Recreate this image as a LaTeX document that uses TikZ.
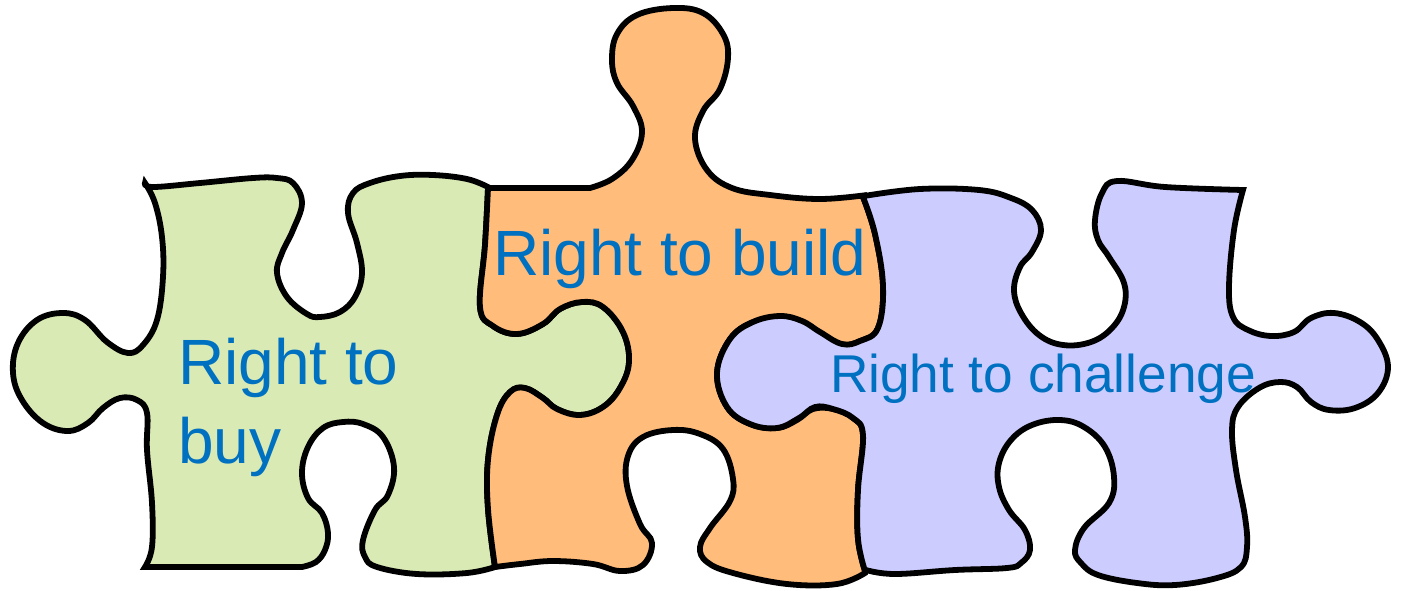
\documentclass[tikz,border=0pt]{standalone}
\usepackage{fontspec}
\setmainfont{Liberation Sans}
\definecolor{pgreen}{HTML}{D9EAB4}
\definecolor{porange}{HTML}{FFBC7B}
\definecolor{ppurple}{HTML}{CCCCFF}
\definecolor{ptext}{HTML}{0070C0}
\tikzset{
  piece/.style={draw=black,line width=5.8pt,line join=miter,miter limit=6},
  lbl/.style={text=ptext,inner sep=0pt,outer sep=0pt},
  sm/.style={smooth,tension=0.65}
}
\def\sharedR{-- plot[sm] coordinates{(488,188)(485,245)(480,307)(493,326)(517,334)(543,324)(560,309)(582,302)(603,307)(623,332)(629,362)(620,388)(603,407)(580,415)(557,409)(543,398)(525,388)(510,392)(497,415)(488,460)(488,509)(495,567)}}
\def\sharedS{-- plot[sm] coordinates{(865,571)(858,539)(858,490)(863,435)(853,418)(833,409)(813,409)(797,420)(777,428)(750,424)(727,407)(717,373)(730,339)(753,322)(780,318)(800,324)(817,335)(840,345)(860,341)(878,328)(883,286)(875,234)(863,197)}}
\def\purpleS{-- plot[sm] coordinates{(865,571)(858,539)(858,490)(863,435)(853,418)(833,409)(815,407)(799,418)(777,428)(750,424)(727,407)(717,373)(730,339)(753,322)(780,316)(802,321)(820,332)(842,344)(860,341)(878,328)(883,286)(875,234)(863,197)}}
\begin{document}
\begin{tikzpicture}[x=1pt,y=-1pt]
\useasboundingbox (0,0) rectangle (1403,590);
% green piece
\path[piece,fill=pgreen]
  plot[sm] coordinates{(145,183)(153,187)(200,183)(253,178)(277,178)(293,183)(302,203)(293,230)(282,253)(277,273)(287,297)(307,314)(320,317)(340,312)(355,297)(362,273)(357,243)(348,213)(353,193)(370,183)(400,176)(433,175)(467,179)(488,187)}
  \sharedR
  -- plot[sm] coordinates{(495,567)(467,573)(417,574)(377,567)(365,557)(363,540)(375,510)(388,495)(394,467)(383,437)(363,424)(343,422)(323,428)(308,447)(302,473)(308,498)(322,513)(328,533)(325,550)(316,562)(302,567)}
  -- (145,567)
  -- plot[sm] coordinates{(145,567)(152,547)(152,503)(147,450)(147,413)(137,400)(120,398)(103,408)(88,423)(68,431)(43,423)(22,400)(13,373)(18,343)(37,320)(63,313)(85,320)(107,342)(128,353)(143,345)(157,320)(163,277)(162,237)(155,203)(145,183)}
  -- cycle;
% orange piece
\path[piece,fill=porange]
  (488,188) \sharedR
  -- plot[sm] coordinates{(495,567)(520,564)(553,561)(593,564)(620,571)(643,565)(652,543)(640,524)(627,486)(628,456)(643,437)(673,430)(700,434)(723,449)(733,479)(730,501)(710,528)(700,547)(707,562)(733,573)(787,584)(837,584)(865,573)}
  \sharedS
  -- plot[sm] coordinates{(867,195)(820,199)(770,195)(732,188)(707,170)(695,139)(703,111)(720,89)(728,58)(723,34)(703,13)(673,8)(637,15)(617,34)(612,60)(617,83)(633,106)(642,132)(632,160)(612,179)(590,188)}
  -- (488,188) -- cycle;
% purple piece
\path[piece,fill=ppurple]
  plot[sm] coordinates{(864,196)(920,189)(979,190)(1011,198)(1032,210)(1041,230)(1032,252)(1020,267)(1014,290)(1021,313)(1039,335)(1063,345)(1091,342)(1112,328)(1124,307)(1124,283)(1109,257)(1098,240)(1095,220)(1102,193)(1117,181)(1165,187)(1243,190)}
  -- plot[sm] coordinates{(1243,190)(1234,230)(1229,287)(1233,317)(1248,330)(1271,336)(1294,332)(1311,318)(1334,313)(1360,322)(1378,340)(1388,367)(1378,393)(1355,408)(1329,410)(1311,402)(1297,387)(1280,382)(1259,388)(1238,407)(1232,430)(1236,470)(1245,517)(1247,547)(1241,567)(1217,578)(1175,585)(1137,583)(1098,575)(1081,563)(1075,550)(1084,528)(1109,503)(1114,477)(1105,447)(1084,427)(1060,420)(1032,425)(1011,440)(999,463)(999,487)(1009,510)(1025,530)(1030,550)(1021,563)(1007,568)(955,570)(895,574)(866,570)}
  \purpleS -- cycle;
\node[lbl,font=\fontsize{64}{79}\selectfont,align=left,anchor=west] (buy) at (178,407) {Right to\\buy};
\node[lbl,font=\fontsize{64}{64}\selectfont,anchor=base west] (build) at (493,275) {Right to build};
\node[lbl,font=\fontsize{53.2}{53.2}\selectfont,anchor=base west] (challenge) at (830,392) {Right to challenge};
\end{tikzpicture}
\end{document}
